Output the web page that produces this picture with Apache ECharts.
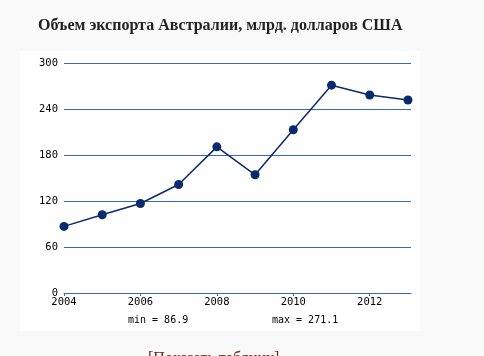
<!DOCTYPE html>
<html>
<head>
<meta charset="utf-8">
<script src="https://cdn.jsdelivr.net/npm/echarts@6/dist/echarts.min.js"></script>
<style>
html,body{margin:0;padding:0;background:#f9f9f9;}
#c{width:484px;height:356px;}
</style>
</head>
<body>
<div id="c"></div>
<script>
var years = [2004, 2005, 2006, 2007, 2008, 2009, 2010, 2011, 2012, 2013];
var exportsVal = [86.9, 102.0, 116.8, 141.5, 190.6, 154.2, 213.0, 271.1, 258.3, 251.8];
var yTicks = [0, 60, 120, 180, 240, 300];
var xTickYears = [2004, 2006, 2008, 2010, 2012];
var titleText = 'Объем экспорта Австралии, млрд. долларов США';

var minV = Math.min.apply(null, exportsVal);
var maxV = Math.max.apply(null, exportsVal);

var chart = echarts.init(document.getElementById('c'), null, {renderer: 'canvas'});
var mono = '"DejaVu Sans Mono", monospace';
chart.setOption({
  backgroundColor: '#f9f9f9',
  animation: false,
  title: {
    text: titleText,
    left: 33, top: 13,
    textStyle: {fontFamily: '"Liberation Serif", "DejaVu Serif", serif', fontSize: 16, fontWeight: 'bold', color: '#222'}
  },
  graphic: [
    {type: 'rect', z: -10, shape: {x: 20, y: 51, width: 400, height: 280}, style: {fill: '#ffffff'}},
    {type: 'text', left: 128, top: 315, style: {text: 'min = ' + minV.toFixed(1), font: '10px ' + mono, fill: '#000'}},
    {type: 'text', left: 272, top: 315, style: {text: 'max = ' + maxV.toFixed(1), font: '10px ' + mono, fill: '#000'}},
    {type: 'text', left: 148, top: 351, style: {text: '[Показать таблицу]', font: '16px "Liberation Serif", serif', fill: '#6b2a1a'}}
  ],
  grid: {left: 64, right: 73, top: 63, bottom: 63, containLabel: false},
  xAxis: {
    type: 'value',
    min: 2004, max: 2013.08, interval: 2,
    axisLine: {show: true, onZero: false, lineStyle: {color: '#3a6aa3', width: 1}},
    axisTick: {show: true, length: 3, lineStyle: {color: '#3a6aa3'}},
    splitLine: {show: false},
    axisLabel: {
      color: '#000', fontFamily: mono, fontSize: 10.5, margin: 4, showMaxLabel: false,
      formatter: function (v) { return xTickYears.indexOf(v) >= 0 ? String(v) : ''; }
    }
  },
  yAxis: {
    type: 'value',
    min: yTicks[0], max: yTicks[yTicks.length - 1], interval: 60,
    axisLine: {show: false},
    axisTick: {show: false},
    splitLine: {show: true, lineStyle: {color: '#3a6aa3', width: 1}},
    axisLabel: {color: '#000', fontFamily: mono, fontSize: 10.5, margin: 6}
  },
  series: [{
    type: 'line',
    data: years.map(function (y, i) { return [y, exportsVal[i]]; }),
    symbol: 'circle',
    symbolSize: 9,
    lineStyle: {color: '#0b2a6e', width: 1.5},
    itemStyle: {color: '#0b2a6e'}
  }]
});
</script>
</body>
</html>
